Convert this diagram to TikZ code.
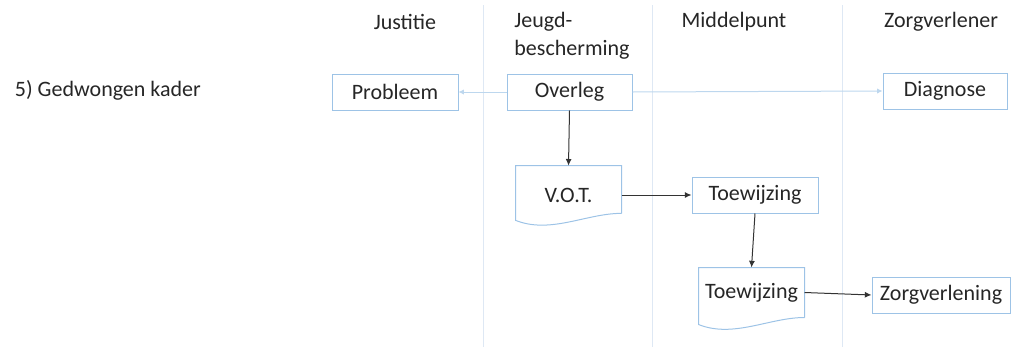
\documentclass[tikz,border=0pt]{standalone}
\usepackage{fontspec}
\setmainfont{Carlito}
\usetikzlibrary{arrows.meta}

\definecolor{boxblue}{RGB}{157,195,230}
\definecolor{lanegray}{RGB}{222,232,244}
\definecolor{flowblue}{RGB}{189,215,238}

\tikzset{every picture/.style={line width=0.75pt}}
\tikzset{
  every node/.style={font=\fontsize{16.5}{21}\selectfont, text=black!85},
  stepbox/.style={draw=boxblue, minimum height=27pt, inner sep=0pt},
  docbox/.style={draw=none, inner sep=0pt},
  docline/.style={draw=boxblue},
  lane/.style={draw=lanegray},
  flow/.style={draw=black!80, -{Latex[length=5pt,width=4.5pt]}},
  softflow/.style={draw=flowblue, -{Latex[length=4pt,width=4pt]}}
}

\begin{document}
\begin{tikzpicture}[x=0.75pt,y=0.75pt,yscale=-1,xscale=1]
  \useasboundingbox (0,0) rectangle (1017,347);
  %Lanes
  \foreach \x in {483,652,842}
    \draw[lane] (\x,5) -- (\x,347);

  % Text Node
  \node[anchor=west] (kader) at (10,90) {5) Gedwongen kader};
  % Text Node
  \node (justitie) at (405,22) {Justitie};
  \node[align=left] (jeugd) at (572,36) {Jeugd-\\bescherming};
  \node (midden) at (734,22) {Middelpunt};
  \node (zorg) at (941,22) {Zorgverlener};

  %Shape: Rectangle
  \node[stepbox, minimum width=94.5pt] (probleem) at (395,92) {Probleem};
  \node[stepbox, minimum width=93.75pt] (overleg) at (569.5,92) {Overleg};
  \node[stepbox, minimum width=93pt] (diagnose) at (945,91) {Diagnose};
  \node[stepbox, minimum width=94.5pt] (toew) at (755,195) {Toewijzing};
  \node[stepbox, minimum width=103.5pt] (verlening) at (941,295) {Zorgverlening};

  %Shape: Document
  \node[docbox, minimum width=78.75pt, minimum height=35pt] (vot) at (568.5,189.5) {\raisebox{-10pt}[0pt][0pt]{V.O.T.}};
  \draw[docline] (vot.south east) -- (vot.north east) -- (vot.north west) -- (vot.south west)
    -- ++(0,7) .. controls +(35,14) and +(-35,0) .. (vot.south east);
  \node[docbox, minimum width=78.75pt, minimum height=36.75pt] (toewdoc) at (751.5,292.5) {Toewijzing};
  \draw[docline] (toewdoc.south east) -- (toewdoc.north east) -- (toewdoc.north west) -- (toewdoc.south west)
    -- ++(0,7) .. controls +(35,14) and +(-35,0) .. (toewdoc.south east);

  %Straight Lines
  \draw[softflow] (overleg.west) -- (probleem.east);
  \draw[softflow] (overleg.east) -- (diagnose.west);
  \draw[flow] (overleg.south) -- (vot.north);
  \draw[flow] (vot.east |- toew.west) -- (toew.west);
  \draw[flow] (toew.south) -- (toewdoc.north);
  \draw[flow] (toewdoc.east) -- (verlening.west);
\end{tikzpicture}
\end{document}
